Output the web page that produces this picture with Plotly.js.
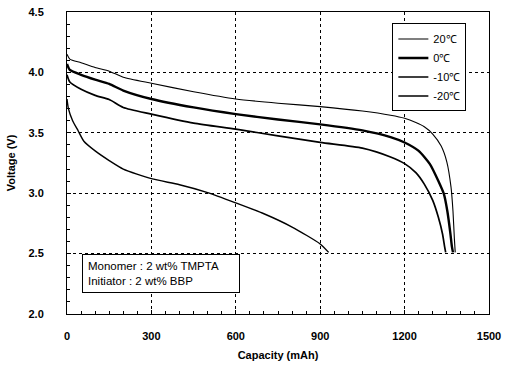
<!DOCTYPE html>
<html>
<head>
<meta charset="utf-8">
<script src="https://cdn.plot.ly/plotly-3.0.1.min.js"></script>
<style>html,body{margin:0;padding:0;background:#fff;}#chart{width:513px;height:366px;}</style>
</head>
<body>
<div id="chart"></div>
<script>
// Series names
const seriesNames = ["20\u2103", "0\u2103", "-10\u2103", "-20\u2103"];

// 20 °C
const cap20 = [0, 10, 50, 100, 150, 200, 300, 450, 600, 750, 900, 1050, 1150, 1200, 1240, 1270, 1300, 1330, 1350, 1365, 1372, 1377, 1380];
const volt20 = [4.15, 4.11, 4.08, 4.04, 4.01, 3.96, 3.91, 3.84, 3.78, 3.745, 3.717, 3.68, 3.645, 3.62, 3.585, 3.55, 3.49, 3.39, 3.26, 3.05, 2.85, 2.62, 2.51];

// 0 °C
const cap0 = [0, 10, 50, 100, 150, 200, 300, 450, 600, 750, 900, 1050, 1150, 1200, 1250, 1290, 1320, 1340, 1352, 1362, 1368, 1372];
const volt0 = [4.07, 4.02, 3.98, 3.94, 3.905, 3.85, 3.78, 3.71, 3.655, 3.61, 3.57, 3.52, 3.465, 3.42, 3.35, 3.24, 3.10, 2.99, 2.85, 2.68, 2.56, 2.51];

// -10 °C
const cap10 = [0, 10, 50, 100, 150, 200, 300, 450, 600, 750, 900, 1050, 1150, 1200, 1240, 1270, 1300, 1320, 1335, 1342, 1346];
const volt10 = [3.98, 3.92, 3.86, 3.81, 3.775, 3.71, 3.655, 3.58, 3.53, 3.475, 3.42, 3.373, 3.30, 3.245, 3.17, 3.075, 2.94, 2.80, 2.66, 2.56, 2.51];

// -20 °C
const capM20 = [0, 5, 20, 40, 60, 100, 150, 200, 300, 400, 500, 600, 700, 800, 900, 930];
const voltM20 = [3.78, 3.70, 3.60, 3.515, 3.43, 3.35, 3.27, 3.20, 3.12, 3.07, 3.005, 2.92, 2.83, 2.72, 2.58, 2.51];

// Axis ticks
const xTicks = [0, 300, 600, 900, 1200, 1500];
const yTicks = [2.0, 2.5, 3.0, 3.5, 4.0, 4.5];
const yTickText = ["2.0", "2.5", "3.0", "3.5", "4.0", "4.5"];

const noteText = "Monomer : 2 wt% TMPTA<br>Initiator : 2 wt% BBP";

const traces = [
  {x: cap20, y: volt20, name: seriesNames[0], mode: "lines", line: {color: "#000", width: 1.1, shape: "spline", smoothing: 0.6}},
  {x: cap0, y: volt0, name: seriesNames[1], mode: "lines", line: {color: "#000", width: 2.4, shape: "spline", smoothing: 0.6}},
  {x: cap10, y: volt10, name: seriesNames[2], mode: "lines", line: {color: "#000", width: 1.7, shape: "spline", smoothing: 0.6}},
  {x: capM20, y: voltM20, name: seriesNames[3], mode: "lines", line: {color: "#000", width: 1.4, shape: "spline", smoothing: 0.6}}
];

const font = {family: "Liberation Sans, Arial, sans-serif", color: "#000"};

const layout = {
  width: 513, height: 366,
  margin: {l: 67, r: 24, t: 12, b: 52, pad: 0},
  paper_bgcolor: "#fff", plot_bgcolor: "#fff",
  font: Object.assign({size: 11}, font),
  showlegend: true,
  legend: {
    x: 0.771, y: 0.962, xanchor: "left", yanchor: "top",
    bordercolor: "#000", borderwidth: 1, bgcolor: "#fff",
    font: Object.assign({size: 11}, font),
    itemwidth: 30, tracegroupgap: 0
  },
  xaxis: {
    range: [0, 1500], tickvals: xTicks, ticktext: xTicks.map(String),
    showline: true, linecolor: "#000", linewidth: 1, mirror: true,
    ticks: "inside", ticklen: 4, tickcolor: "#000",
    showgrid: true, gridcolor: "#000", griddash: "dot", gridwidth: 1,
    zeroline: false,
    tickfont: Object.assign({size: 11, weight: "bold"}, font),
    ticklabelstandoff: 12,
    minor: {dtick: 50, ticks: "inside", ticklen: 3, tickcolor: "#000", showgrid: false},
    title: {text: "Capacity (mAh)", font: Object.assign({size: 11, weight: "bold"}, font), standoff: 10}
  },
  yaxis: {
    range: [2, 4.5], tickvals: yTicks, ticktext: yTickText,
    showline: true, linecolor: "#000", linewidth: 1, mirror: true,
    ticks: "inside", ticklen: 4, tickcolor: "#000",
    showgrid: true, gridcolor: "#000", griddash: "dot", gridwidth: 1,
    zeroline: false,
    tickfont: Object.assign({size: 11, weight: "bold"}, font),
    ticklabelstandoff: 20,
    minor: {dtick: 0.1, ticks: "inside", ticklen: 3, tickcolor: "#000", showgrid: false},
    title: {text: "Voltage (V)", font: Object.assign({size: 11, weight: "bold"}, font), standoff: 10}
  },
  annotations: [{
    xref: "paper", yref: "paper",
    x: 0.036, y: 0.199, xanchor: "left", yanchor: "top",
    text: noteText, showarrow: false, align: "left",
    font: Object.assign({size: 11.5}, font),
    bordercolor: "#000", borderwidth: 1, borderpad: 5, bgcolor: "#fff",
    width: 146
  }]
};

Plotly.newPlot("chart", traces, layout, {displayModeBar: false, staticPlot: true});
</script>
</body>
</html>
